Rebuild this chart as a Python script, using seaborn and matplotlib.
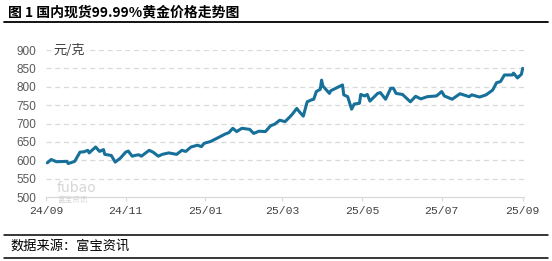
import matplotlib
matplotlib.use('Agg')
import matplotlib.pyplot as plt
import seaborn as sns
import pandas as pd
from matplotlib.lines import Line2D

# ---------------- data ----------------
dates = [
    '2024-09-02', '2024-09-05', '2024-09-09', '2024-09-17', '2024-09-18', '2024-09-23',
    '2024-09-27', '2024-09-30', '2024-10-03', '2024-10-04', '2024-10-09', '2024-10-12',
    '2024-10-15', '2024-10-16', '2024-10-21', '2024-10-24', '2024-10-28', '2024-11-01',
    '2024-11-03', '2024-11-06', '2024-11-08', '2024-11-11', '2024-11-13', '2024-11-19',
    '2024-11-22', '2024-11-26', '2024-11-29', '2024-12-04', '2024-12-10', '2024-12-14',
    '2024-12-17', '2024-12-21', '2024-12-26', '2024-12-29', '2024-12-31', '2025-01-05',
    '2025-01-10', '2025-01-16', '2025-01-19', '2025-01-22', '2025-01-25', '2025-01-29',
    '2025-02-04', '2025-02-07', '2025-02-11', '2025-02-16', '2025-02-20', '2025-02-23',
    '2025-02-27', '2025-03-03', '2025-03-07', '2025-03-09', '2025-03-12', '2025-03-14',
    '2025-03-17', '2025-03-20', '2025-03-23', '2025-03-25', '2025-03-27', '2025-03-30',
    '2025-03-31', '2025-04-01', '2025-04-06', '2025-04-07', '2025-04-16', '2025-04-17',
    '2025-04-20', '2025-04-23', '2025-04-25', '2025-04-29', '2025-04-30', '2025-05-03',
    '2025-05-05', '2025-05-07', '2025-05-13', '2025-05-15', '2025-05-19', '2025-05-23',
    '2025-05-25', '2025-05-27', '2025-06-01', '2025-06-07', '2025-06-11', '2025-06-15',
    '2025-06-20', '2025-06-27', '2025-07-01', '2025-07-03', '2025-07-09', '2025-07-15',
    '2025-07-22', '2025-07-24', '2025-07-30', '2025-08-04', '2025-08-09', '2025-08-12',
    '2025-08-15', '2025-08-18', '2025-08-24', '2025-08-25', '2025-08-28', '2025-08-31',
    '2025-09-01',
]
prices = [
    593, 602, 596, 597, 591, 597,
    622, 623, 627, 620, 636, 624,
    629, 616, 613, 595, 606, 622,
    625, 611, 613, 615, 611, 627,
    622, 611, 616, 620, 616, 627,
    624, 636, 641, 637, 646, 651,
    660, 671, 675, 687, 678, 687,
    684, 673, 679, 678, 694, 698,
    709, 705, 719, 727, 741, 732,
    720, 759, 764, 766, 787, 793,
    818, 802, 782, 789, 805, 778,
    773, 739, 753, 755, 779, 775,
    779, 761, 782, 784, 766, 796,
    796, 782, 779, 759, 774, 767,
    773, 775, 787, 775, 766, 781,
    773, 778, 772, 778, 791, 811,
    814, 832, 832, 837, 824, 834,
    850,
]
tick_dates = ['2024-09-01', '2024-11-01', '2025-01-01', '2025-03-01',
              '2025-05-01', '2025-07-01', '2025-09-01']
tick_labels = ['24/09', '24/11', '25/01', '25/03', '25/05', '25/07', '25/09']
y_ticks = [500, 550, 600, 650, 700, 750, 800, 850, 900]

title = '图 1 国内现货99.99%黄金价格走势图'
unit = '元/克'
source = '数据来源：富宝资讯'

# ---------------- drawing ----------------
sns.set_theme(style='white')
plt.rcParams['font.family'] = ['Noto Sans CJK SC', 'DejaVu Sans']

df = pd.DataFrame({'date': pd.to_datetime(dates), 'price': prices})

W, H = 552, 261
fig = plt.figure(figsize=(W / 100, H / 100), dpi=100)
ax = fig.add_axes([46 / W, 1 - 197 / H, (524 - 46) / W, (197 - 50) / H])

for v in y_ticks[1:]:
    ax.axhline(v, color='#d9d9d9', lw=0.9, ls=(0, (4, 3)), zorder=0)

sns.lineplot(data=df, x='date', y='price', ax=ax, color='#17709a',
             linewidth=2.2, zorder=3)

ax.set_xlim(pd.Timestamp('2024-09-01'), pd.Timestamp('2025-09-02'))
ax.set_ylim(500, 900)
ax.set_yticks(y_ticks)
ax.set_yticklabels([str(v) for v in y_ticks], family=['Liberation Sans'],
                   fontsize=8.5, color='#595959')
ax.set_xticks(pd.to_datetime(tick_dates))
ax.set_xticklabels(tick_labels, family=['Liberation Mono'], fontsize=8.2,
                   color='#404040')
ax.tick_params(axis='x', length=3, width=0.8, color='#d9d9d9', pad=3.5,
               direction='out', bottom=True)
ax.tick_params(axis='y', length=0, pad=7)
ax.set_xlabel('')
ax.set_ylabel('')
ax.grid(False)
for s in ['top', 'right', 'left']:
    ax.spines[s].set_visible(False)
ax.spines['bottom'].set_color('#d9d9d9')
ax.spines['bottom'].set_linewidth(0.9)
ax.set_facecolor('none')

ax.text(54 / W * W, 900, unit, transform=ax.transData, fontsize=9)
ax.texts[-1].remove()
fig.text(53 / W, 1 - 50 / H, unit, fontsize=9.5, color='#404040',
         va='center', ha='left',
         bbox=dict(facecolor='white', edgecolor='none', pad=1.0), zorder=5)

# watermark
fig.text(57 / W, 1 - 188 / H, 'fubao', fontsize=10, color='#d6d6d6',
         va='center', ha='left', family=['DejaVu Sans'])
fig.text(57 / W, 1 - 200 / H, '富宝资讯', fontsize=5.5, color='#d6d6d6',
         va='center', ha='left')

# title and frame lines
fig.text(8 / W, 1 - 12 / H, title, fontsize=10, fontweight='bold',
         va='center', ha='left', color='black')
fig.add_artist(Line2D([4 / W, 548 / W], [1 - 21.5 / H] * 2, color='black', lw=1.3))
fig.add_artist(Line2D([4 / W, 548 / W], [1 - 234.5 / H] * 2, color='black', lw=1.1))
fig.add_artist(Line2D([4 / W, 548 / W], [1 - 257.5 / H] * 2, color='black', lw=1.1))
fig.text(10 / W, 1 - 246.5 / H, source, fontsize=9.5, va='center', ha='left',
         color='black')

fig.savefig('out.png', dpi=100)
